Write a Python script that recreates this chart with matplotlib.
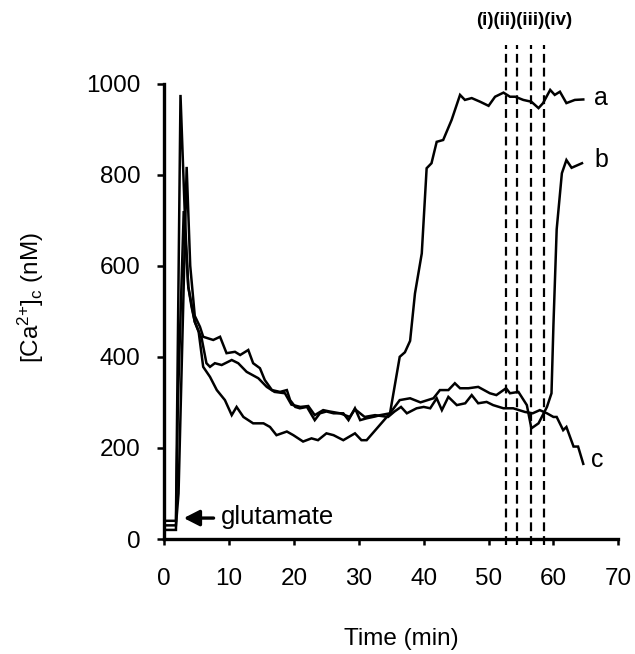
import matplotlib
matplotlib.use("Agg")
import matplotlib.pyplot as plt

plt.rcParams['font.family'] = ['Liberation Sans', 'DejaVu Sans']
plt.rcParams['mathtext.default'] = 'regular'

# ---- data ----
t_a = [0, 1.8, 2.5, 3.2, 3.7, 4.2, 4.7, 5.3, 6.0, 7.05, 8.1, 9.35, 10.4, 11.15, 12.2, 13.7,
       15.3, 16.3, 17.3, 18.9, 19.9, 21.4, 22.7, 23.7, 25.0, 26.1, 27.6, 29.4, 30.4, 31.2,
       34.8, 36.3, 37.1, 37.9, 38.65, 39.7, 40.45, 41.2, 42.0, 43.0, 44.3, 45.6, 46.35, 47.4,
       48.7, 50.0, 51.0, 52.3, 53.3, 54.1, 55.35, 56.6, 57.7, 58.4, 59.5, 60.2, 61.0, 62.0,
       63.3, 64.6]
ca_a = [40, 40, 975, 700, 554, 510, 477, 455, 378, 356, 327, 305, 272, 290, 268, 254,
        254, 246, 228, 236, 228, 214, 221, 217, 232, 228, 217, 232, 217, 217,
        276, 400, 410, 435, 539, 627, 814, 825, 872, 876, 920, 975, 964, 968,
        960, 951, 971, 980, 971, 971, 964, 960, 946, 957, 986, 975, 982, 957,
        964, 965]

t_b = [0, 1.8, 2.2, 3.45, 4.0, 4.7, 5.5, 6.0, 7.55, 8.6, 9.6, 10.9, 11.7, 12.95, 13.7,
       14.75, 15.5, 16.6, 17.85, 18.9, 19.4, 20.2, 20.9, 22.0, 23.2, 24.0, 25.0, 26.1, 27.6,
       28.4, 29.4, 30.2, 31.2, 32.5, 33.3, 34.8, 36.3, 37.9, 39.5, 41.5, 42.5, 43.8, 44.8,
       45.6, 46.9, 48.4, 50.2, 51.2, 52.7, 53.3, 54.6, 55.9, 56.6, 57.7, 59.0, 59.7, 60.0,
       60.5, 61.3, 62.0, 62.8, 64.4]
ca_b = [30, 30, 100, 817, 600, 490, 466, 444, 437, 444, 408, 411, 404, 415, 386,
        375, 349, 327, 323, 327, 305, 290, 287, 290, 261, 276, 280, 276, 276,
        261, 287, 261, 265, 269, 272, 276, 305, 309, 300, 309, 327, 327, 342,
        331, 331, 334, 320, 316, 331, 320, 323, 294, 243, 254, 290, 320, 470,
        680, 803, 832, 815, 825]

t_c = [0, 1.8, 2.1, 3.0, 3.7, 4.7, 5.77, 6.5, 7.05, 7.8, 8.85, 10.4, 11.4, 12.7, 14.5,
       15.8, 17.0, 18.6, 19.6, 21.0, 22.2, 23.2, 24.5, 25.5, 27.1, 28.6, 29.4, 30.9, 32.5,
       34.5, 35.5, 36.5, 37.4, 38.9, 40.0, 41.0, 42.0, 42.8, 43.8, 45.1, 46.4, 47.4, 48.4,
       49.7, 50.7, 52.3, 53.8, 55.6, 56.8, 57.9, 59.0, 60.0, 60.5, 61.5, 62.0, 63.1, 63.8,
       64.6]
ca_c = [20, 20, 300, 720, 554, 477, 440, 386, 378, 386, 382, 393, 386, 367, 353,
        334, 323, 320, 295, 290, 292, 272, 283, 280, 276, 268, 285, 268, 272,
        268, 280, 290, 276, 287, 290, 287, 309, 283, 312, 294, 298, 316, 298,
        301, 294, 287, 287, 279, 276, 283, 276, 268, 268, 239, 246, 203, 203,
        165]

marker_times = [52.7, 54.4, 56.5, 58.6]
marker_text = "(i)(ii)(iii)(iv)"
trace_labels = ["a", "b", "c"]
trace_label_pos = [(67.4, 969), (67.4, 832), (66.7, 173)]
x_ticks = [0, 10, 20, 30, 40, 50, 60, 70]
y_ticks = [0, 200, 400, 600, 800, 1000]

# ---- figure ----
fig = plt.figure(figsize=(6.35, 6.54), dpi=100)
ax = fig.add_axes([0.2587, 0.1758, 0.715, 0.6965])

for t, y in [(t_a, ca_a), (t_b, ca_b), (t_c, ca_c)]:
    ax.plot(t, y, color='black', lw=1.8, solid_joinstyle='miter')

for xm in marker_times:
    ax.plot([xm, xm], [-13, 1085], color='black', lw=1.6,
            linestyle=(0, (4, 2.2)), clip_on=False)

ax.text(sum(marker_times) / len(marker_times), 1138, marker_text, ha='center',
        va='center', fontsize=13.5, fontweight='bold')

for lab, (x, y) in zip(trace_labels, trace_label_pos):
    ax.text(x, y, lab, fontsize=18, ha='center', va='center', clip_on=False)

ax.annotate('', xy=(3.0, 46), xytext=(7.6, 46),
            arrowprops=dict(arrowstyle='-|>,head_length=0.47,head_width=0.24',
                            lw=2.4, color='black', mutation_scale=20,
                            shrinkA=0, shrinkB=0))
ax.text(8.7, 48, 'glutamate', fontsize=18.5, ha='left', va='center')

ax.set_xlim(0, 70)
ax.set_ylim(0, 1000)
ax.set_xticks(x_ticks)
ax.set_yticks(y_ticks)
ax.spines['top'].set_visible(False)
ax.spines['right'].set_visible(False)
for s in ['left', 'bottom']:
    ax.spines[s].set_linewidth(2.4)
ax.tick_params(axis='y', direction='out', length=5, width=1.8, pad=12, labelsize=17.5)
ax.tick_params(axis='x', direction='out', length=4, width=1.8, pad=17, labelsize=17.5)

ax.set_xlabel('Time (min)', fontsize=17.5)
ax.xaxis.label.set_va('center')
ax.xaxis.set_label_coords(0.523, -0.22)
ax.set_ylabel(r'[Ca$^{2{+}}$]$_{c}$ (nM)', fontsize=17.5)
ax.yaxis.label.set_va('center')
ax.yaxis.set_label_coords(-0.294, 0.531)

fig.savefig('out.png', dpi=100)
